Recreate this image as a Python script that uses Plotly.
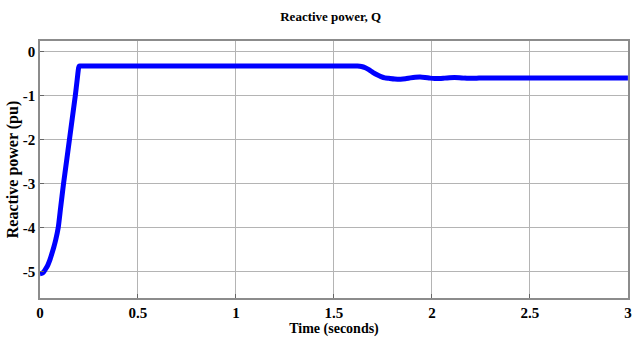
import plotly.graph_objects as go

# Time (s) and reactive power (pu)
time_s = [0.0, 0.01, 0.02, 0.03, 0.04, 0.05, 0.06, 0.07, 0.08, 0.093, 0.105, 0.12, 0.135,
          0.15, 0.165, 0.18, 0.19, 0.197, 0.2, 0.205, 0.22, 0.3,
          0.5, 1.0, 1.5, 1.6, 1.62, 1.64, 1.66, 1.68, 1.70, 1.72, 1.74, 1.76, 1.78, 1.81, 1.84,
          1.865, 1.89, 1.915, 1.94, 1.965, 1.99, 2.015, 2.04, 2.065, 2.09, 2.115, 2.14,
          2.165, 2.19, 2.215, 2.24, 2.29, 2.34, 2.4, 2.5, 2.6, 2.7, 2.8, 2.9, 3.0]
q_pu = [-5.05, -5.04, -5.0, -4.93, -4.85, -4.74, -4.6, -4.45, -4.28, -4.0, -3.55, -3.0, -2.5,
        -2.0, -1.5, -1.0, -0.62, -0.36, -0.32, -0.32, -0.32, -0.32,
        -0.32, -0.32, -0.32, -0.32, -0.32, -0.33, -0.36, -0.41, -0.47, -0.52, -0.56, -0.59, -0.6,
        -0.615, -0.62, -0.61, -0.59, -0.575, -0.57, -0.58, -0.595, -0.605, -0.605, -0.595, -0.585,
        -0.58, -0.585, -0.595, -0.6, -0.6, -0.595, -0.59, -0.59, -0.595, -0.59, -0.59, -0.59,
        -0.59, -0.59, -0.59]

x_ticks = [0, 0.5, 1, 1.5, 2, 2.5, 3]
x_tick_labels = ["0", "0.5", "1", "1.5", "2", "2.5", "3"]
y_ticks = [0, -1, -2, -3, -4, -5]
y_tick_labels = ["0", "-1", "-2", "-3", "-4", "-5"]

serif = "Liberation Serif, Times New Roman, serif"

fig = go.Figure()
fig.add_trace(go.Scatter(x=time_s, y=q_pu, mode="lines",
                         line=dict(color="#0000ff", width=5, shape="spline", smoothing=0.5),
                         showlegend=False))

axis_common = dict(showgrid=True, gridcolor="#b4b4b4", gridwidth=1,
                   showline=True, linecolor="#8c8c8c", linewidth=1.5, mirror=True,
                   zeroline=False, ticks="inside", ticklen=4, tickcolor="#666666",
                   automargin=False,
                   tickfont=dict(family=serif, size=15, color="black"))

fig.update_layout(
    width=636, height=341,
    margin=dict(l=40, r=8, t=41, b=43),
    paper_bgcolor="white", plot_bgcolor="white",
    title=dict(text="<b>Reactive power, Q</b>", x=0.52, xanchor="center", y=0.953, yanchor="middle",
               font=dict(family=serif, size=13, color="black")),
    xaxis=dict(range=[0, 3.0005], tickvals=x_ticks, ticktext=[f"<b>{t}</b>" for t in x_tick_labels],
               title=dict(text="<b>Time (seconds)</b>", font=dict(family=serif, size=14, color="black"),
                          standoff=1),
               **axis_common),
    yaxis=dict(range=[-5.6, 0.25], tickvals=y_ticks, ticktext=[f"<b>{t}</b>" for t in y_tick_labels],
               title=dict(text="<b>Reactive power (pu)</b>", font=dict(family=serif, size=16, color="black"),
                          standoff=0),
               **axis_common),
)

fig.write_html("out.html", config={"displayModeBar": False},
               post_script="document.body.style.margin='0';document.body.style.overflow='hidden';")
